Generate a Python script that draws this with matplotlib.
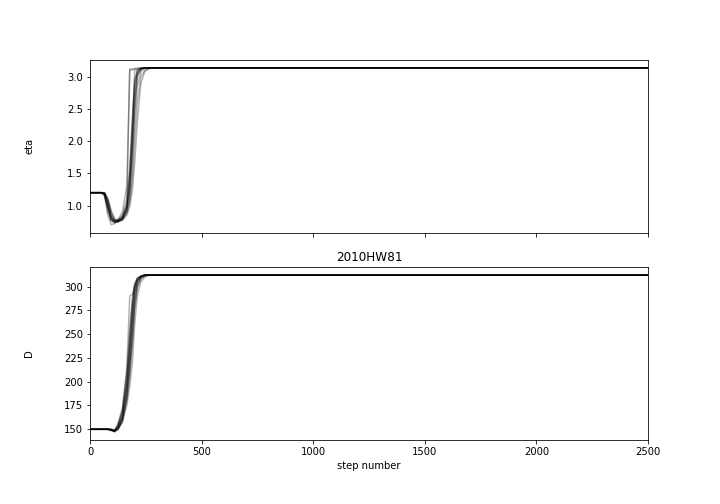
import numpy as np
import matplotlib
matplotlib.use("Agg")
import matplotlib.pyplot as plt

# --- Данные: шаги и значения цепочек ---
STEPS = [0, 50, 65, 80, 95, 110, 125, 145, 165, 178, 190, 200, 212, 228, 245, 265, 290, 2500]

ETA_WALKERS = [
    [1.20, 1.20, 1.19, 1.05, 0.82, 0.76, 0.76, 0.80, 0.95, 1.30, 2.00, 2.70, 3.05, 3.12, 3.14, 3.14, 3.14, 3.14],
    [1.20, 1.20, 1.17, 0.95, 0.78, 0.75, 0.77, 0.85, 1.10, 1.60, 2.40, 2.95, 3.10, 3.13, 3.14, 3.14, 3.14, 3.14],
    [1.20, 1.20, 1.20, 1.10, 0.90, 0.78, 0.75, 0.78, 0.90, 1.10, 1.60, 2.30, 2.85, 3.08, 3.13, 3.14, 3.14, 3.14],
    [1.20, 1.20, 1.15, 0.85, 0.70, 0.72, 0.76, 0.82, 1.00, 3.10, 3.11, 3.12, 3.13, 3.14, 3.14, 3.14, 3.14, 3.14],
    [1.20, 1.20, 1.19, 1.00, 0.80, 0.74, 0.74, 0.79, 0.92, 1.20, 1.80, 2.50, 3.00, 3.11, 3.14, 3.14, 3.14, 3.14],
    [1.20, 1.20, 1.18, 1.08, 0.86, 0.77, 0.76, 0.78, 0.88, 1.05, 1.40, 2.00, 2.60, 3.00, 3.10, 3.13, 3.14, 3.14],
    [1.20, 1.20, 1.20, 1.12, 0.92, 0.80, 0.77, 0.80, 0.98, 1.45, 2.20, 2.85, 3.08, 3.13, 3.14, 3.14, 3.14, 3.14],
    [1.20, 1.20, 1.16, 0.90, 0.76, 0.74, 0.78, 0.90, 1.30, 3.12, 3.12, 3.13, 3.13, 3.14, 3.14, 3.14, 3.14, 3.14],
    [1.20, 1.20, 1.19, 1.02, 0.81, 0.75, 0.75, 0.77, 0.85, 0.98, 1.25, 1.65, 2.30, 2.90, 3.08, 3.13, 3.14, 3.14],
    [1.20, 1.20, 1.18, 0.98, 0.79, 0.76, 0.78, 0.83, 1.02, 1.50, 2.30, 2.90, 3.09, 3.13, 3.14, 3.14, 3.14, 3.14],
    [1.20, 1.20, 1.20, 1.06, 0.84, 0.77, 0.76, 0.79, 0.93, 1.25, 1.90, 2.60, 3.02, 3.12, 3.14, 3.14, 3.14, 3.14],
    [1.20, 1.20, 1.17, 0.96, 0.77, 0.73, 0.75, 0.81, 0.97, 1.35, 2.10, 3.10, 3.11, 3.13, 3.14, 3.14, 3.14, 3.14],
]

D_WALKERS = [
    [150, 150, 150, 150, 149, 148, 150, 158, 185, 220, 260, 290, 305, 310, 312, 312, 312, 312],
    [150, 150, 150, 150, 149, 148, 152, 165, 200, 240, 280, 300, 308, 311, 312, 312, 312, 312],
    [150, 150, 150, 150, 150, 149, 151, 160, 180, 205, 240, 275, 298, 308, 311, 312, 312, 312],
    [150, 150, 150, 150, 149, 147, 150, 162, 195, 230, 270, 295, 306, 310, 312, 312, 312, 312],
    [150, 150, 150, 150, 150, 149, 153, 168, 205, 250, 285, 302, 309, 311, 312, 312, 312, 312],
    [150, 150, 150, 150, 149, 148, 150, 157, 175, 195, 220, 260, 290, 305, 310, 312, 312, 312],
    [150, 150, 150, 150, 150, 149, 152, 163, 190, 225, 265, 292, 305, 310, 312, 312, 312, 312],
    [150, 150, 150, 150, 149, 148, 155, 170, 215, 290, 292, 300, 307, 311, 312, 312, 312, 312],
    [150, 150, 150, 150, 150, 148, 151, 161, 188, 215, 250, 283, 302, 309, 312, 312, 312, 312],
    [150, 150, 150, 150, 149, 149, 153, 166, 198, 238, 276, 298, 307, 311, 312, 312, 312, 312],
    [150, 150, 150, 150, 150, 148, 150, 159, 182, 210, 245, 280, 300, 309, 311, 312, 312, 312],
    [150, 150, 150, 150, 149, 148, 156, 172, 210, 255, 288, 303, 309, 311, 312, 312, 312, 312],
]

LABELS = ["eta", "D"]
TITLE = "2010HW81"
N_STEPS = 2500

fig, axes = plt.subplots(2, figsize=(10, 7), dpi=72, sharex=True)
fig.subplots_adjust(left=0.125, right=0.9, top=0.881, bottom=0.127, hspace=0.2)

for ax, walkers, label in zip(axes, [ETA_WALKERS, D_WALKERS], LABELS):
    data = np.array(walkers).T
    ax.plot(STEPS, data, "k", alpha=0.3)
    ax.set_xlim(0, N_STEPS)
    ax.set_ylabel(label)
    ax.yaxis.set_label_coords(-0.1, 0.5)

axes[-1].set_xlabel("step number")
plt.title(TITLE)
plt.savefig("out.png", dpi=72)
